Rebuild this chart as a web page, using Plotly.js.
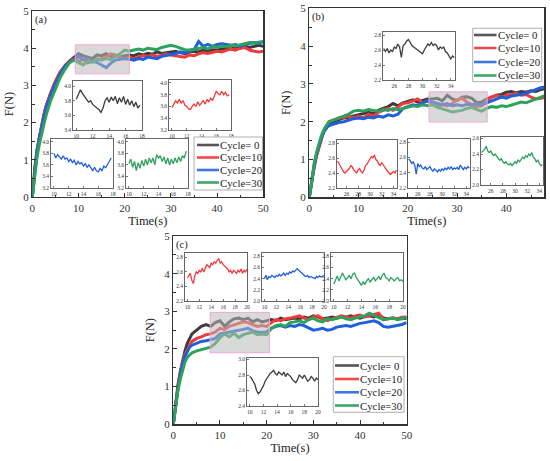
<!DOCTYPE html>
<html><head><meta charset="utf-8">
<script src="https://cdn.plot.ly/plotly-3.0.1.min.js"></script>
<style>html,body{margin:0;padding:0;background:#fff}#chart{width:550px;height:461px}</style>
</head><body><div id="chart"></div>
<script>
// ---------- DATA ----------
const tMain=[0,0.5,1,1.5,2,2.5,3,3.5,4,5,6,7,8,9,10,11,12,13,14,15,16,17,18,19,20,21,22,23,24,25,26,27,28,29,30,31,32,33,34,35,36,37,38,39,40,41,42,43,44,45,46,47,48,49,50];
const seriesNames=["Cycle= 0","Cycle=10","Cycle=20","Cycle=30"];

// panel (a)
const aBlack=[0,0.75,1.25,1.6,1.95,2.2,2.45,2.65,2.8,3.1,3.35,3.5,3.65,3.75, 3.85,3.8,3.75,3.72,3.82,3.8,3.85,3.78,3.8,3.76, 3.8,3.82,3.8,3.85,3.82,3.86,3.84,3.9,3.86,3.88, 3.9,3.92,3.88,3.85,3.9,3.92,3.9,3.95,3.92,3.96, 3.95,3.98,4.0,3.98,4.02,4.0,4.05,4.02,4.05,4.08, 4.05];
const aRed=[0,0.72,1.22,1.6,1.95,2.2,2.45,2.65,2.8,3.1,3.35,3.52,3.65,3.72, 3.65,3.7,3.6,3.65,3.68,3.72,3.75,3.85,3.82,3.75, 3.72,3.75,3.72,3.76,3.8,3.78,3.82,3.78,3.8,3.84, 3.82,3.8,3.78,3.76,3.82,3.8,3.85,3.88,3.86,3.9, 3.92,3.9,3.95,3.98,3.95,4.0,4.02,3.95,3.92,3.9, 3.92];
const aBlue=[0,0.7,1.2,1.55,1.9,2.15,2.4,2.6,2.75,3.05,3.3,3.5,3.62,3.7, 3.78,3.7,3.72,3.65,3.62,3.55,3.48,3.6,3.68,3.7, 3.72,3.7,3.68,3.72,3.7,3.76,3.74,3.72,3.78,3.8, 3.82,3.85,3.9,3.88,3.92,3.95,4.18,4.05,4.1,4.05, 4.1,4.12,4.1,4.08,4.1,4.05,4.1,4.12,4.15,4.12, 4.18];
const aGreen=[0,0.6,1.05,1.4,1.7,1.95,2.2,2.4,2.6,2.9,3.2,3.42,3.6,3.68, 3.62,3.55,3.66,3.62,3.72,3.68,3.72,3.7,3.78,3.85, 3.95,3.92,3.95,3.98,3.95,4.0,3.98,3.96,4.02,4.05, 4.08,4.05,4.0,3.96,3.95,3.98,4.0,4.02,3.98,4.05, 4.02,4.06,4.04,4.08,4.06,4.1,4.12,4.15,4.14,4.16, 4.18];

// panel (b)
const bBlack=[0,0.5,0.85,1.15,1.4,1.6,1.75,1.85,1.92,2.0,2.05,2.1,2.12,2.15, 2.2,2.22,2.25,2.22,2.3,2.35,2.4,2.48,2.42,2.5, 2.55,2.58,2.52,2.56,2.6,2.6,2.62,2.55,2.7,2.6, 2.56,2.65,2.66,2.62,2.5,2.52,2.6,2.65,2.7,2.72, 2.78,2.8,2.76,2.8,2.78,2.82,2.8,2.85,2.88,2.9, 2.9];
const bRed=[0,0.45,0.8,1.1,1.35,1.6,1.78,1.9,2.0,2.05,2.1,2.12,2.15,2.1, 2.15,2.1,2.2,2.15,2.25,2.3,2.35,2.3,2.4,2.48, 2.5,2.55,2.6,2.5,2.55,2.45,2.4,2.45,2.42,2.48, 2.58,2.62,2.52,2.45,2.4,2.42,2.55,2.65,2.7,2.65, 2.7,2.72,2.75,2.7,2.72,2.65,2.6,2.62,2.65,2.6, 2.6];
const bBlue=[0,0.5,0.85,1.15,1.4,1.6,1.75,1.85,1.9,1.95,1.98,2.0,2.05,2.08, 2.1,2.08,2.12,2.1,2.15,2.12,2.18,2.15,2.2,2.35, 2.4,2.45,2.42,2.5,2.55,2.52,2.5,2.45,2.48,2.42, 2.45,2.42,2.46,2.45,2.48,2.45,2.5,2.55,2.6,2.65, 2.62,2.68,2.7,2.72,2.75,2.8,2.85,2.9,2.92,2.9, 2.9];
const bGreen=[0,0.5,0.9,1.2,1.45,1.65,1.8,1.92,2.0,2.05,2.1,2.15,2.2,2.28, 2.3,2.28,2.32,2.3,2.28,2.32,2.3,2.35,2.32,2.35, 2.38,2.42,2.4,2.45,2.42,2.45,2.38,2.35,2.3,2.26, 2.28,2.3,2.35,2.38,2.32,2.28,2.35,2.4,2.38,2.42, 2.4,2.45,2.48,2.52,2.5,2.55,2.6,2.65,2.7,2.7, 2.72];

// panel (c)
const cBlack=[0,0.6,1.05,1.4,1.7,1.95,2.15,2.3,2.4,2.5,2.6,2.65,2.6,2.7, 2.75,2.6,2.72,2.8,2.82,2.78,2.82,2.72,2.78,2.72, 2.76,2.78,2.75,2.82,2.78,2.8,2.82,2.8,2.85,2.82, 2.88,2.85,2.8,2.82,2.85,2.82,2.86,2.84,2.88,2.85, 2.82,2.86,2.88,2.85,2.92,2.82,2.8,2.82,2.8,2.82, 2.8];
const cRed=[0,0.55,1.0,1.35,1.65,1.85,2.0,2.1,2.2,2.28,2.32,2.38,2.4,2.45, 2.55,2.52,2.6,2.65,2.68,2.72,2.7,2.65,2.6,2.62, 2.6,2.7,2.78,2.75,2.8,2.82,2.85,2.88,2.82,2.78, 2.85,2.88,2.8,2.75,2.8,2.85,2.88,2.85,2.82,2.88, 2.9,2.85,2.88,2.92,2.95,2.78,2.8,2.82,2.8,2.84, 2.85];
const cBlue=[0,0.55,0.95,1.3,1.6,1.8,1.95,2.05,2.1,2.15,2.2,2.22,2.25,2.28, 2.4,2.42,2.45,2.48,2.5,2.52,2.55,2.48,2.45,2.44, 2.45,2.55,2.6,2.62,2.58,2.62,2.6,2.65,2.62,2.55, 2.5,2.52,2.55,2.5,2.52,2.58,2.6,2.62,2.6,2.65, 2.68,2.7,2.72,2.75,2.7,2.6,2.58,2.6,2.62,2.65, 2.7];
const cGreen=[0,0.5,0.9,1.2,1.45,1.65,1.78,1.85,1.9,1.95,1.98,2.0,2.05,2.15, 2.3,2.4,2.32,2.42,2.3,2.38,2.42,2.45,2.38,2.4, 2.38,2.55,2.62,2.65,2.6,2.7,2.72,2.75,2.7,2.78, 2.82,2.75,2.72,2.8,2.78,2.82,2.85,2.8,2.78,2.82, 2.85,2.88,2.95,2.9,2.85,2.78,2.8,2.82,2.78,2.8, 2.85];

// insets (a): t = 10 .. 17.75
const tInA=[10,10.25,10.5,10.75,11,11.25,11.5,11.75,12,12.25,12.5,12.75,13,13.25,13.5,13.75,14,14.25,14.5,14.75,15,15.25,15.5,15.75,16,16.25,16.5,16.75,17,17.25,17.5,17.75];
const inABlack=[3.82,3.88,3.95,3.9,3.85,3.82,3.78,3.8,3.75,3.72,3.7,3.68,3.64,3.7,3.8,3.84,3.78,3.85,3.8,3.86,3.76,3.84,3.78,3.86,3.75,3.82,3.74,3.8,3.72,3.78,3.7,3.74];
const inARed=[3.58,3.64,3.7,3.66,3.72,3.66,3.7,3.62,3.6,3.56,3.55,3.6,3.64,3.6,3.68,3.62,3.66,3.7,3.64,3.72,3.68,3.74,3.7,3.78,3.86,3.82,3.8,3.86,3.8,3.84,3.78,3.8];
const inABlue=[3.8,3.72,3.78,3.74,3.7,3.76,3.7,3.72,3.66,3.7,3.64,3.68,3.6,3.66,3.62,3.64,3.58,3.62,3.56,3.6,3.54,3.5,3.56,3.5,3.48,3.54,3.5,3.58,3.55,3.62,3.66,3.72];
const inAGreen=[3.62,3.7,3.56,3.66,3.5,3.64,3.54,3.68,3.58,3.7,3.6,3.72,3.64,3.72,3.6,3.78,3.72,3.76,3.66,3.74,3.62,3.72,3.6,3.7,3.62,3.72,3.64,3.74,3.66,3.76,3.72,3.84];

// insets (b): t = 24.5 .. 34.5
const tInB=[24.5,24.75,25,25.25,25.5,25.75,26,26.25,26.5,26.75,27,27.25,27.5,27.75,28,28.25,28.5,28.75,29,29.25,29.5,29.75,30,30.25,30.5,30.75,31,31.25,31.5,31.75,32,32.25,32.5,32.75,33,33.25,33.5,33.75,34,34.25,34.5];
const inBBlack=[2.62,2.58,2.62,2.56,2.6,2.58,2.64,2.62,2.68,2.64,2.5,2.66,2.68,2.72,2.74,2.7,2.66,2.64,2.62,2.6,2.58,2.56,2.55,2.6,2.64,2.68,2.66,2.7,2.66,2.68,2.66,2.6,2.64,2.62,2.64,2.58,2.56,2.52,2.48,2.52,2.5];
const inBRed=[2.56,2.52,2.48,2.45,2.42,2.4,2.42,2.44,2.46,2.5,2.48,2.44,2.42,2.4,2.44,2.46,2.42,2.4,2.44,2.5,2.52,2.56,2.58,2.62,2.6,2.64,2.58,2.56,2.52,2.5,2.54,2.5,2.48,2.45,2.42,2.4,2.38,2.4,2.42,2.4,2.44];
const inBBlue=[2.58,2.56,2.52,2.54,2.5,2.38,2.52,2.48,2.5,2.46,2.45,2.48,2.44,2.46,2.48,2.44,2.42,2.45,2.43,2.41,2.44,2.42,2.45,2.43,2.46,2.44,2.47,2.45,2.48,2.44,2.46,2.45,2.47,2.44,2.5,2.46,2.44,2.47,2.45,2.48,2.46];
const inBGreen=[2.42,2.44,2.46,2.5,2.44,2.42,2.44,2.4,2.38,2.4,2.36,2.34,2.32,2.34,2.3,2.28,2.3,2.27,2.26,2.28,2.25,2.28,2.3,2.28,2.32,2.3,2.34,2.36,2.34,2.38,2.36,2.4,2.38,2.42,2.36,2.34,2.3,2.32,2.28,2.25,2.26];

// insets (c): t = 10 .. 20
const tInC=[10,10.25,10.5,10.75,11,11.25,11.5,11.75,12,12.25,12.5,12.75,13,13.25,13.5,13.75,14,14.25,14.5,14.75,15,15.25,15.5,15.75,16,16.25,16.5,16.75,17,17.25,17.5,17.75,18,18.25,18.5,18.75,19,19.25,19.5,19.75,20];
const inCRed=[2.52,2.56,2.58,2.48,2.44,2.55,2.6,2.58,2.62,2.6,2.65,2.6,2.66,2.7,2.68,2.66,2.72,2.7,2.74,2.72,2.76,2.78,2.72,2.74,2.7,2.68,2.66,2.64,2.6,2.62,2.58,2.62,2.6,2.58,2.62,2.6,2.64,2.58,2.62,2.6,2.64];
const inCBlue=[2.4,2.46,2.38,2.44,2.42,2.46,2.44,2.42,2.46,2.44,2.48,2.45,2.47,2.5,2.46,2.5,2.48,2.52,2.5,2.54,2.52,2.56,2.58,2.55,2.52,2.5,2.48,2.45,2.44,2.46,2.42,2.44,2.43,2.42,2.4,2.44,2.42,2.45,2.43,2.44,2.46];
const inCGreen=[2.3,2.38,2.45,2.36,2.42,2.5,2.44,2.38,2.42,2.46,2.4,2.48,2.5,2.42,2.38,2.32,2.28,2.34,2.3,2.36,2.4,2.34,2.38,2.42,2.36,2.4,2.44,2.38,2.46,2.5,2.42,2.4,2.36,2.42,2.38,2.36,2.4,2.42,2.36,2.38,2.35];
const inCBlack=[2.78,2.76,2.72,2.68,2.6,2.56,2.58,2.62,2.66,2.72,2.76,2.8,2.82,2.84,2.86,2.82,2.8,2.84,2.82,2.8,2.84,2.78,2.82,2.8,2.78,2.74,2.72,2.7,2.74,2.8,2.78,2.76,2.8,2.76,2.72,2.74,2.78,2.76,2.72,2.76,2.74];

// ---------- STYLE ----------
const W=550,H=461;
const serif='Liberation Serif, Times New Roman, serif';
const COL=['#3c3c3c','#f23a3a','#1f5fdc','#2ca25c'];
const LEGCOL=['#555555','#f24a4a','#3a78e0','#3aa866'];
const axCol='#333';
const dx=(a,b)=>[a/W,b/W];
const dy=(a,b)=>[1-b/H,1-a/H];

const traces=[];
const layout={
  width:W,height:H,margin:{l:0,r:0,t:0,b:0},showlegend:false,
  paper_bgcolor:'#fff',plot_bgcolor:'#fff',
  font:{family:serif,color:'#222'},
  shapes:[],annotations:[]
};

function mainAxes(n,px,py,xr,title){
  const xs=n===1?'':String(n);
  layout['xaxis'+xs]={domain:dx(px[0],px[1]),range:xr,anchor:'y'+xs,dtick:10,tick0:0,
    ticks:'inside',ticklen:4,tickwidth:1,tickcolor:axCol,minor:{dtick:5,ticks:'inside',ticklen:2.5,tickcolor:axCol},
    showline:true,mirror:true,linecolor:axCol,linewidth:1.3,showgrid:false,zeroline:false,
    tickfont:{family:serif,size:11,color:'#333'},
    title:{text:'Time(s)',font:{family:serif,size:12.5,color:'#222'},standoff:3}};
  layout['yaxis'+xs]={domain:dy(py[0],py[1]),range:[0,5],anchor:'x'+xs,dtick:1,tick0:0,
    ticks:'inside',ticklen:4,tickwidth:1,tickcolor:axCol,minor:{dtick:0.5,ticks:'inside',ticklen:2.5,tickcolor:axCol},
    showline:true,mirror:true,linecolor:axCol,linewidth:1.3,showgrid:false,zeroline:false,
    tickfont:{family:serif,size:11,color:'#333'},
    title:{text:'F(N)',font:{family:serif,size:12.5,color:'#222'},standoff:7}};
  layout.annotations.push({xref:'paper',yref:'paper',x:(px[0]+1)/W,y:1-(py[0]+1)/H,xanchor:'left',yanchor:'top',
    text:title,showarrow:false,font:{family:serif,size:10.5,color:'#222'}});
}

function addMain(n,series){
  const xs=n===1?'':String(n);
  series.forEach((v,i)=>{
    traces.push({type:'scatter',mode:'lines',x:tMain,y:v,xaxis:'x'+xs,yaxis:'y'+xs,
      name:seriesNames[i],line:{color:COL[i],width:3}});
  });
}

function addBox(n,x0,x1,y0,y1){
  const xs=n===1?'':String(n);
  layout.shapes.push({type:'rect',xref:'x'+xs,yref:'y'+xs,x0:x0,x1:x1,y0:y0,y1:y1,layer:'above',
    fillcolor:'rgba(185,185,185,0.55)',line:{color:'#f2a6d8',width:1}});
}

let nextId=4;
function addInset(px,py,xr,yr,xdt,ydt,t,v,ci){
  const n=nextId++;
  layout['xaxis'+n]={domain:dx(px[0],px[1]),range:xr,anchor:'y'+n,dtick:xdt,tick0:0,
    ticks:'inside',ticklen:2,tickwidth:0.8,tickcolor:'#555',showline:true,mirror:true,linecolor:'#555',linewidth:0.9,
    showgrid:false,zeroline:false,tickfont:{family:serif,size:5.5,color:'#333'}};
  layout['yaxis'+n]={domain:dy(py[0],py[1]),range:yr,anchor:'x'+n,dtick:ydt,tick0:0,tickformat:'.1f',
    ticks:'inside',ticklen:2,tickwidth:0.8,tickcolor:'#555',showline:true,mirror:true,linecolor:'#555',linewidth:0.9,
    showgrid:false,zeroline:false,tickfont:{family:serif,size:5.5,color:'#333'}};
  traces.push({type:'scatter',mode:'lines',x:t,y:v,xaxis:'x'+n,yaxis:'y'+n,
    line:{color:COL[ci],width:1.3}});
}

// legend box drawn in page coordinates: box [x0,x1,y0,y1], row centres, line start/end
function addLegend(box,rows,lx0,lx1){
  layout.shapes.push({type:'rect',xref:'paper',yref:'paper',x0:box[0]/W,x1:box[1]/W,y0:1-box[3]/H,y1:1-box[2]/H,
    layer:'above',fillcolor:'#fff',line:{color:'#b0b0b0',width:1}});
  rows.forEach((ry,i)=>{
    layout.shapes.push({type:'line',xref:'paper',yref:'paper',x0:lx0/W,x1:lx1/W,y0:1-ry/H,y1:1-ry/H,
      layer:'above',line:{color:LEGCOL[i],width:2.6}});
    layout.annotations.push({xref:'paper',yref:'paper',x:(lx1)/W,y:1-ry/H,xanchor:'left',yanchor:'middle',
      text:seriesNames[i],showarrow:false,borderpad:0,font:{family:serif,size:10.8,color:'#222'}});
  });
}

// ---------- PANELS ----------
mainAxes(1,[32.3,263.3],[11,197],[0,50],'(a)');
mainAxes(2,[309.3,544.3],[8.3,197.3],[0,47.7],'(b)');
mainAxes(3,[173.3,406.7],[236,424.3],[0,50],'(c)');

addMain(1,[aBlack,aRed,aBlue,aGreen]);
addMain(2,[bBlack,bRed,bBlue,bGreen]);
addMain(3,[cBlack,cRed,cBlue,cGreen]);

addBox(1,9.3,21,3.31,4.09);
addBox(2,24.3,36.1,1.99,2.79);
addBox(3,7.9,20.6,1.9,2.97);

// insets (a)
addInset([73,142],[81,130],[9.6,18],[3.4,4.07],2,0.2,tInA,inABlack,0);
addInset([169,231],[80,130],[9.6,18],[3.2,4.05],2,0.2,tInA,inARed,1);
addInset([51,113],[139,188],[9.6,18],[3.2,4.05],2,0.2,tInA,inABlue,2);
addInset([126,188],[139,188],[9.6,18],[3.2,4.05],2,0.2,tInA,inAGreen,3);
// insets (b)
addInset([383,455],[32,80],[24.4,34.6],[2.2,2.84],2,0.2,tInB,inBBlack,0);
addInset([337,397],[140,188],[24.4,34.6],[2.2,2.84],2,0.2,tInB,inBRed,1);
addInset([408,470],[139,188],[24.4,34.6],[2.2,2.84],2,0.2,tInB,inBBlue,2);
addInset([481,543],[137,185],[24.4,34.6],[2.0,2.62],2,0.2,tInB,inBGreen,3);
// insets (c)
addInset([185,247],[253,301],[9.6,20],[2.2,2.86],2,0.2,tInC,inCRed,1);
addInset([262,324],[253,301],[9.6,20],[2.0,2.86],2,0.2,tInC,inCBlue,2);
addInset([331,403],[253,301],[9.6,20],[2.0,2.86],2,0.2,tInC,inCGreen,3);
addInset([247,318],[358,406],[9.6,20],[2.4,3.02],2,0.2,tInC,inCBlack,0);

// legends
addLegend([194,262.5,137,190],[145,157.5,170,182.5],197,219);
addLegend([472.7,541.7,28.3,81.7],[35,48,62,75.5],474,496.5);
addLegend([333.3,404,356.7,412.3],[365.5,379,392.3,405.5],335,359);

Plotly.newPlot('chart',traces,layout,{displayModeBar:false,staticPlot:true});
</script></body></html>
